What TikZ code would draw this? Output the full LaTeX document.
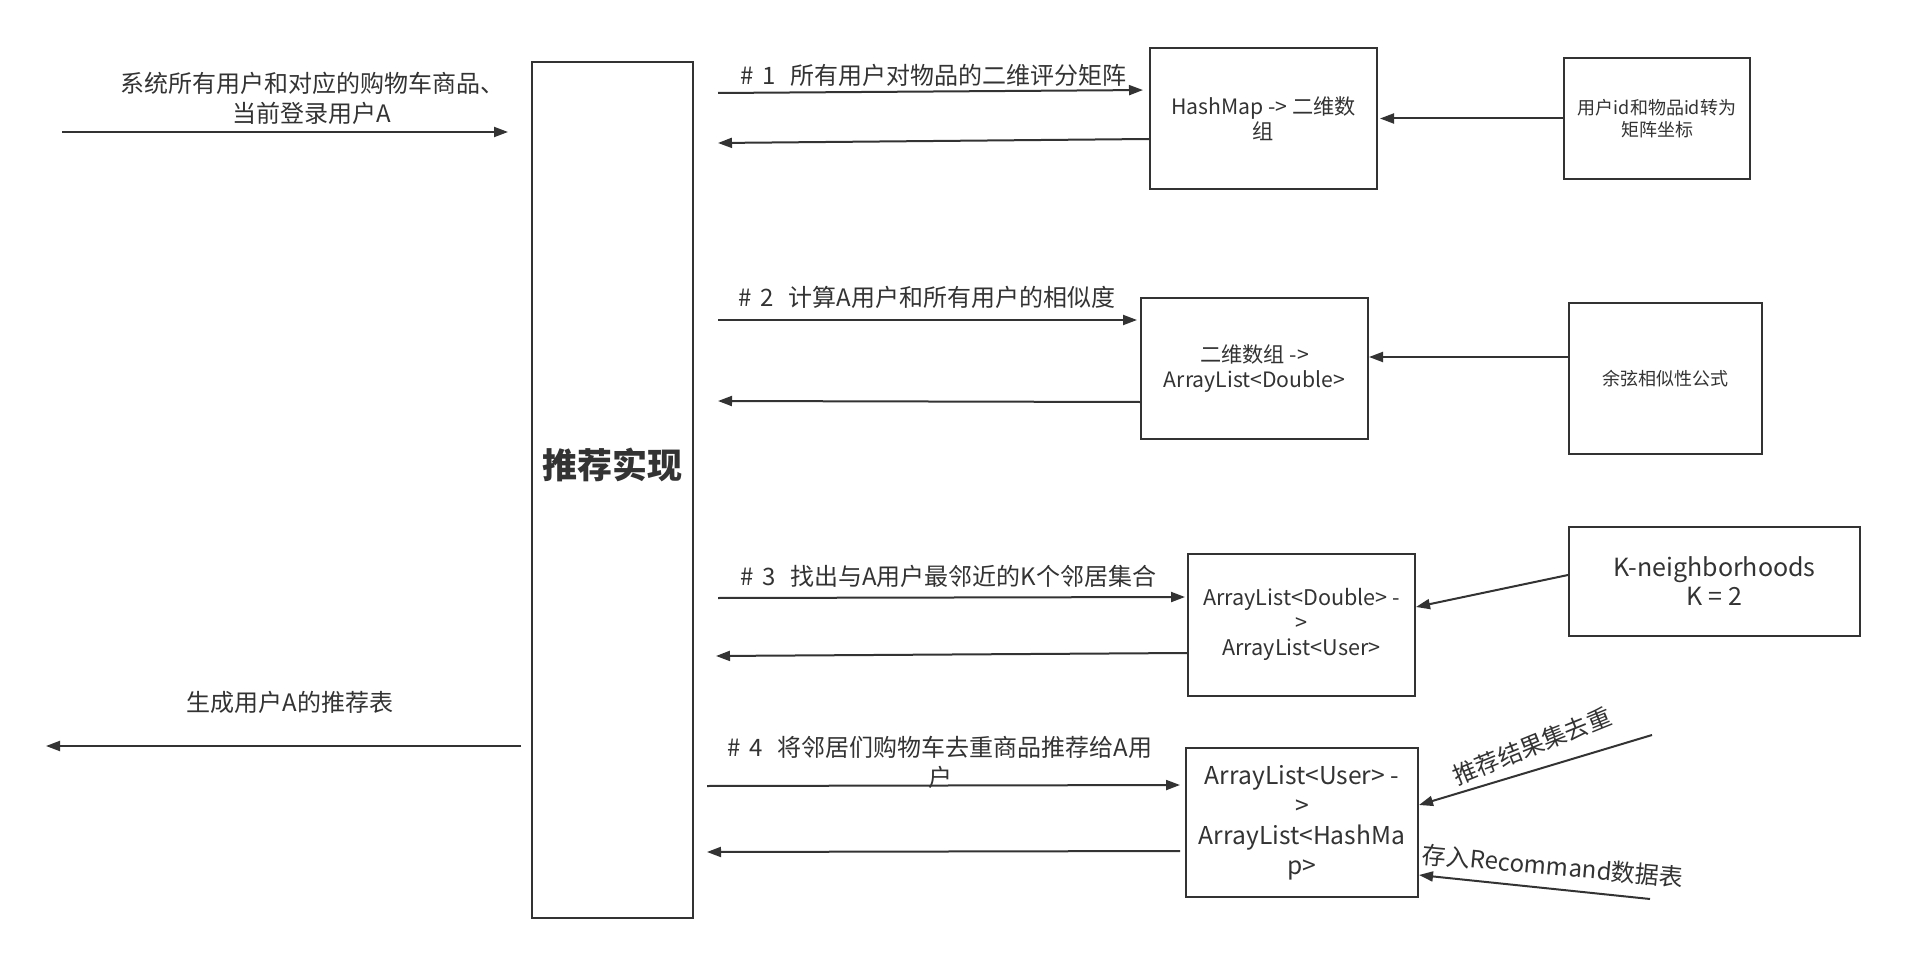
\documentclass[tikz,border=0pt]{standalone}
\usepackage{fontspec}
\setmainfont{Noto Sans CJK SC}
\usetikzlibrary{arrows.meta,calc}
\definecolor{ink}{HTML}{333333}
\newcommand\myfs[2]{\fontsize{#1}{#2}\selectfont}
\newcommand\stepno[1]{\#\hspace{0.35em}#1\hspace{0.6em}}
\begin{document}
\begin{tikzpicture}[x=0.5pt,y=-0.5pt,
  box/.style={draw=ink, line width=1pt, inner sep=0pt, align=center, text=ink},
  arr/.style={draw=ink, line width=1pt, -{Triangle[length=7pt,width=5pt]}},
  lbl/.style={text=ink, inner sep=0pt, align=center, font=\myfs{12pt}{15pt}},
  smallbox/.style={box, font=\myfs{10.6pt}{12.5pt}},
  tinybox/.style={box, font=\myfs{9pt}{11.25pt}},
]
\useasboundingbox[fill=white] (0,0) rectangle (1924,979);

% main block
\node[box, minimum width=80.5pt, minimum height=428pt,
  label={[name=mainlbl, text=ink, font=\myfs{17.5pt}{20pt}\bfseries, yshift=12.5pt]center:推荐实现}]
  (main) at (612.5,490) {};

% boxes
\node[smallbox, minimum width=113.5pt, minimum height=70.5pt] (b1) at (1263.5,118.5) {HashMap -> 二维数\\组};
\node[tinybox, minimum width=93pt, minimum height=60.5pt] (ids) at (1657,118.5) {用户id和物品id转为\\矩阵坐标};
\node[smallbox, minimum width=113.5pt, minimum height=70.5pt] (b2) at (1254.5,368.5) {二维数组 ->\\ArrayList<Double>};
\node[tinybox, minimum width=96.5pt, minimum height=75.5pt] (cos) at (1665.5,378.5) {余弦相似性公式};
\node[box, font=\myfs{10.8pt}{12.5pt}, minimum width=113.5pt, minimum height=71pt] (b3) at (1301.5,624.5) {ArrayList<Double> -\\>\\ArrayList<User>};
\node[box, font=\myfs{12.5pt}{14.5pt}, minimum width=145.5pt, minimum height=54.5pt] (kb) at (1714.5,581.5) {K-neighborhoods\\K = 2};
\node[box, font=\myfs{12.3pt}{15pt}, minimum width=116pt, minimum height=74.5pt] (b4) at (1302,822.5) {ArrayList<User> -\\>\\ArrayList<HashMa\\p>};

% free ends
\coordinate (inS) at (62,132);
\coordinate (outE) at (46,746);
\coordinate (f1) at (718,93);
\coordinate (r1) at (718,143);
\coordinate (f2) at (718,320);
\coordinate (r2) at (718,401);
\coordinate (f3) at (718,598);
\coordinate (r3) at (716,656);
\coordinate (f4) at (707,786);
\coordinate (r4) at (707,852);
\coordinate (dd) at (1652,735);
\coordinate (st) at (1650,899);

% connectors
\draw[arr, shorten >=11.5pt] (inS) -- (main.west |- inS);
\draw[arr, shorten <=5pt] (main.west |- outE) -- (outE);

\draw[arr, shorten >=3pt] (f1) -- ($(b1.west)+(0,-28.5)$);
\draw[arr] ($(b1.west)+(0,20.5)$) -- (r1);
\draw[arr, shorten >=1pt] (ids.west) -- (b1.east);

\draw[arr, shorten >=1.5pt] (f2) -- ($(b2.west)+(0,-48.5)$);
\draw[arr] ($(b2.west)+(0,33.5)$) -- (r2);
\draw[arr] ($(cos.west)+(0,-21.5)$) -- ($(b2.east)+(0,-11.5)$);

\draw[arr, shorten >=1pt] (f3) -- ($(b3.west)+(0,-27.5)$);
\draw[arr] ($(b3.west)+(0,28.5)$) -- (r3);
\draw[arr] ($(kb.west)+(0,-6.5)$) -- ($(b3.east)+(0,-17.5)$);

\draw[arr, shorten >=2.5pt] (f4) -- ($(b4.west)+(0,-37.5)$);
\draw[arr, shorten <=2.5pt] ($(b4.west)+(0,28.5)$) -- (r4);
\draw[arr] (dd) -- ($(b4.east)+(0,-17.5)$);
\draw[arr] (st) -- ($(b4.east)+(0,52.5)$);

% labels
\node[lbl] (lin) at (312,98) {系统所有用户和对应的购物车商品、\\当前登录用户A};
\node[lbl] (lout) at (290,702) {生成用户A的推荐表};
\node[lbl] (l1) at (933.5,75) {\stepno{1}所有用户对物品的二维评分矩阵};
\node[lbl] (l2) at (927,297) {\stepno{2}计算A用户和所有用户的相似度};
\node[lbl] (l3) at (948.5,576) {\stepno{3}找出与A用户最邻近的K个邻居集合};
\node[lbl] (l4) at (940,762) {\stepno{4}将邻居们购物车去重商品推荐给A用\\户};
\node[lbl, rotate=22] (ldd) at (1532,746) {推荐结果集去重};
\node[lbl, rotate=-5.2] (lst) at (1553,866) {存入Recommand数据表};
\end{tikzpicture}
\end{document}
